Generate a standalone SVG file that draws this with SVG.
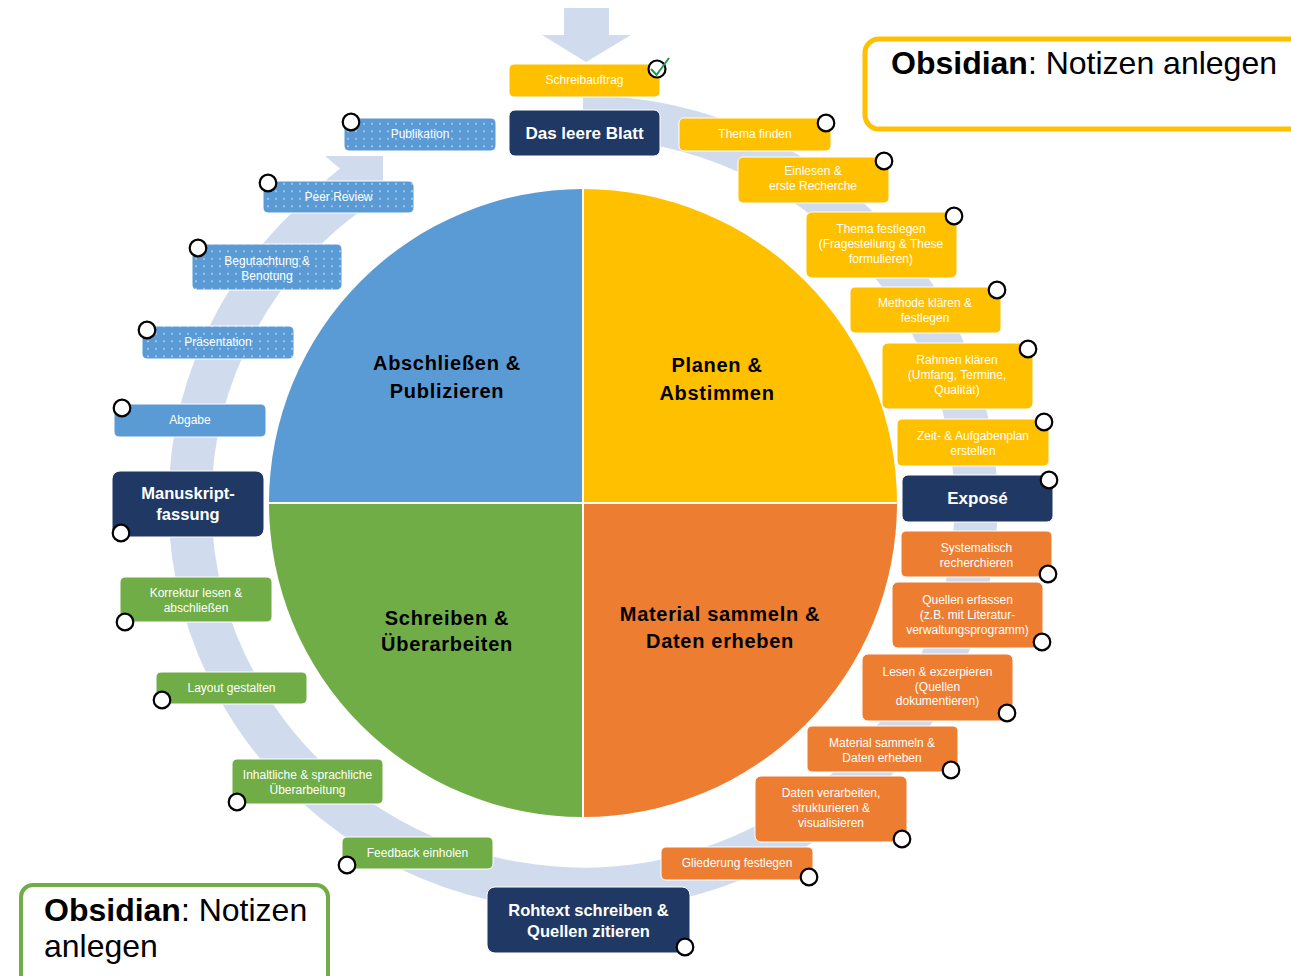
<svg xmlns="http://www.w3.org/2000/svg" width="1291" height="976" viewBox="0 0 1291 976">
<style>
  .t { font-family: "Liberation Sans", Arial, sans-serif; font-size: 12px; fill: #ffffff; text-anchor: middle; }
  .tb { font-family: "Liberation Sans", Arial, sans-serif; font-size: 17px; font-weight: bold; fill: #ffffff; text-anchor: middle; }
  .q { font-family: "Liberation Sans", Arial, sans-serif; font-size: 20px; font-weight: bold; fill: #000000; text-anchor: middle; letter-spacing: 0.7px; }
  .obs { font-family: "Liberation Sans", Arial, sans-serif; font-size: 32px; fill: #000000; }
  .y { fill: #ffc000; stroke: #ffffff; stroke-width: 1; }
  .n { fill: #203864; stroke: #ffffff; stroke-width: 1; }
  .b { fill: #5b9bd5; stroke: #ffffff; stroke-width: 1; }
  .bd { fill: url(#dots); stroke: #ffffff; stroke-width: 1; }
  .g { fill: #70ad47; stroke: #ffffff; stroke-width: 1; }
  .o { fill: #ed7d31; stroke: #ffffff; stroke-width: 1; }
  .c { fill: #ffffff; stroke: #000000; stroke-width: 2.2; }
  .band { fill: none; stroke: #d0dcee; stroke-width: 43; }
</style>
<defs>
  <pattern id="dots" width="8" height="7.5" patternUnits="userSpaceOnUse">
    <rect width="8" height="7.5" fill="#5b9bd5"/>
    <circle cx="4" cy="3.75" r="0.8" fill="#e8f0fa"/>
  </pattern>
</defs>
<rect width="1291" height="976" fill="#ffffff"/>

<g id="background-flow">
  <path class="band" d="M 583 117 A 393 386 0 1 1 349.2 192.7"/>
  <polygon points="325,156 383,156 383,181 325,181 340,168.5" fill="#d0dcee"/>
  <polygon points="564,8 609,8 609,35 631,35 586,62 542,35 564,35" fill="#d0dcee"/>
</g>

<g id="cycle">
  <path d="M583 503 L583 189 A314 314 0 0 0 269 503 Z" fill="#5b9bd5"/>
  <path d="M583 503 L897 503 A314 314 0 0 0 583 189 Z" fill="#ffc000"/>
  <path d="M583 503 L269 503 A314 314 0 0 0 583 817 Z" fill="#70ad47"/>
  <path d="M583 503 L583 817 A314 314 0 0 0 897 503 Z" fill="#ed7d31"/>
  <line x1="583" y1="189" x2="583" y2="817" stroke="#ffffff" stroke-width="2"/>
  <line x1="269" y1="503" x2="897" y2="503" stroke="#ffffff" stroke-width="2"/>
  <text class="q" x="447" y="370"><tspan x="447">Abschließen &amp;</tspan><tspan x="447" dy="28">Publizieren</tspan></text>
  <text class="q" x="717" y="372"><tspan x="717">Planen &amp;</tspan><tspan x="717" dy="28">Abstimmen</tspan></text>
  <text class="q" x="447" y="625"><tspan x="447">Schreiben &amp;</tspan><tspan x="447" dy="26">Überarbeiten</tspan></text>
  <text class="q" x="720" y="621"><tspan x="720">Material sammeln &amp;</tspan><tspan x="720" dy="27">Daten erheben</tspan></text>
</g>

<g id="connectors"></g>

<!-- top / yellow -->
<g id="schreibauftrag">
  <rect class="y" x="509" y="64" width="151" height="33" rx="5"/>
  <text class="t" x="584.5" y="84">Schreibauftrag</text>
  <circle class="c" cx="657" cy="69" r="8.5"/>
  <path d="M651 69 L656.5 75 L669 58" fill="none" stroke="#1f9a50" stroke-width="2"/>
</g>
<g id="das-leere-blatt">
  <rect class="n" x="509" y="110" width="151" height="46" rx="6"/>
  <text class="tb" x="584.5" y="139">Das leere Blatt</text>
</g>
<g id="thema-finden">
  <rect class="y" x="679" y="118" width="152" height="33" rx="5"/>
  <text class="t" x="755" y="138">Thema finden</text>
  <circle class="c" cx="826" cy="123" r="8.3"/>
</g>
<g id="einlesen">
  <rect class="y" x="738" y="157" width="151" height="46" rx="5"/>
  <text class="t" x="813" y="175"><tspan x="813">Einlesen &amp;</tspan><tspan x="813" dy="15">erste Recherche</tspan></text>
  <circle class="c" cx="884" cy="161" r="8.3"/>
</g>
<g id="thema-festlegen">
  <rect class="y" x="806" y="212" width="151" height="66" rx="6"/>
  <text class="t" x="881" y="233"><tspan x="881">Thema festlegen</tspan><tspan x="881" dy="15">(Fragestellung &amp; These</tspan><tspan x="881" dy="15">formulieren)</tspan></text>
  <circle class="c" cx="954" cy="216" r="8.3"/>
</g>
<g id="methode">
  <rect class="y" x="850" y="287" width="151" height="46" rx="5"/>
  <text class="t" x="925" y="307"><tspan x="925">Methode klären &amp;</tspan><tspan x="925" dy="15">festlegen</tspan></text>
  <circle class="c" cx="997" cy="290" r="8.3"/>
</g>
<g id="rahmen">
  <rect class="y" x="882" y="343" width="151" height="66" rx="6"/>
  <text class="t" x="957" y="364"><tspan x="957">Rahmen klären</tspan><tspan x="957" dy="15">(Umfang, Termine,</tspan><tspan x="957" dy="15">Qualität)</tspan></text>
  <circle class="c" cx="1028" cy="349" r="8.3"/>
</g>
<g id="zeitplan">
  <rect class="y" x="897" y="419" width="152" height="47" rx="5"/>
  <text class="t" x="973" y="440"><tspan x="973">Zeit- &amp; Aufgabenplan</tspan><tspan x="973" dy="15">erstellen</tspan></text>
  <circle class="c" cx="1044" cy="422" r="8.3"/>
</g>
<g id="expose">
  <rect class="n" x="902" y="475" width="151" height="47" rx="6"/>
  <text class="tb" x="977.5" y="504">Exposé</text>
  <circle class="c" cx="1049" cy="480" r="8.3"/>
</g>

<!-- orange -->
<g id="systematisch">
  <rect class="o" x="901" y="531" width="151" height="46" rx="5"/>
  <text class="t" x="976.5" y="552"><tspan x="976.5">Systematisch</tspan><tspan x="976.5" dy="15">recherchieren</tspan></text>
  <circle class="c" cx="1048" cy="574" r="8.3"/>
</g>
<g id="quellen">
  <rect class="o" x="892" y="582" width="151" height="66" rx="6"/>
  <text class="t" x="967.5" y="604"><tspan x="967.5">Quellen erfassen</tspan><tspan x="967.5" dy="15">(z.B. mit Literatur-</tspan><tspan x="967.5" dy="15">verwaltungsprogramm)</tspan></text>
  <circle class="c" cx="1042" cy="642" r="8.3"/>
</g>
<g id="lesen">
  <rect class="o" x="862" y="654" width="151" height="67" rx="6"/>
  <text class="t" x="937.5" y="676"><tspan x="937.5">Lesen &amp; exzerpieren</tspan><tspan x="937.5" dy="15">(Quellen</tspan><tspan x="937.5" dy="14">dokumentieren)</tspan></text>
  <circle class="c" cx="1007" cy="713" r="8.3"/>
</g>
<g id="material">
  <rect class="o" x="807" y="726" width="151" height="46" rx="5"/>
  <text class="t" x="882" y="747"><tspan x="882">Material sammeln &amp;</tspan><tspan x="882" dy="15">Daten erheben</tspan></text>
  <circle class="c" cx="951" cy="770" r="8.3"/>
</g>
<g id="daten-verarbeiten">
  <rect class="o" x="755" y="776" width="152" height="66" rx="6"/>
  <text class="t" x="831" y="797"><tspan x="831">Daten verarbeiten,</tspan><tspan x="831" dy="15">strukturieren &amp;</tspan><tspan x="831" dy="15">visualisieren</tspan></text>
  <circle class="c" cx="902" cy="839" r="8.3"/>
</g>
<g id="gliederung">
  <rect class="o" x="661" y="847" width="152" height="33" rx="5"/>
  <text class="t" x="737" y="867">Gliederung festlegen</text>
  <circle class="c" cx="809" cy="877" r="8.3"/>
</g>
<g id="rohtext">
  <rect class="n" x="487" y="887" width="203" height="66" rx="8"/>
  <text class="tb" x="588.5" y="916" style="font-size:16.5px"><tspan x="588.5">Rohtext schreiben &amp;</tspan><tspan x="588.5" dy="21">Quellen zitieren</tspan></text>
  <circle class="c" cx="685" cy="947" r="8.3"/>
</g>

<!-- green -->
<g id="feedback">
  <rect class="g" x="342" y="837" width="151" height="32" rx="5"/>
  <text class="t" x="417.5" y="857">Feedback einholen</text>
  <circle class="c" cx="347" cy="865" r="8.3"/>
</g>
<g id="inhaltliche">
  <rect class="g" x="232" y="759" width="151" height="45" rx="5"/>
  <text class="t" x="307.5" y="779"><tspan x="307.5">Inhaltliche &amp; sprachliche</tspan><tspan x="307.5" dy="15">Überarbeitung</tspan></text>
  <circle class="c" cx="237" cy="802" r="8.3"/>
</g>
<g id="layout">
  <rect class="g" x="156" y="672" width="151" height="32" rx="5"/>
  <text class="t" x="231.5" y="692">Layout gestalten</text>
  <circle class="c" cx="162" cy="700" r="8.3"/>
</g>
<g id="korrektur">
  <rect class="g" x="120" y="577" width="152" height="45" rx="5"/>
  <text class="t" x="196" y="597"><tspan x="196">Korrektur lesen &amp;</tspan><tspan x="196" dy="15">abschließen</tspan></text>
  <circle class="c" cx="125" cy="622" r="8.3"/>
</g>
<g id="manuskriptfassung">
  <rect class="n" x="112" y="471" width="152" height="66" rx="8"/>
  <text class="tb" x="188" y="499" style="font-size:16.5px"><tspan x="188">Manuskript-</tspan><tspan x="188" dy="21">fassung</tspan></text>
  <circle class="c" cx="121" cy="533" r="8.3"/>
</g>

<!-- blue -->
<g id="abgabe">
  <rect class="b" x="114" y="404" width="152" height="33" rx="5"/>
  <text class="t" x="190" y="424">Abgabe</text>
  <circle class="c" cx="122" cy="408" r="8.3"/>
</g>
<g id="praesentation">
  <rect class="bd" x="142" y="326" width="152" height="33" rx="5"/>
  <text class="t" x="218" y="346">Präsentation</text>
  <circle class="c" cx="147" cy="330" r="8.3"/>
</g>
<g id="begutachtung">
  <rect class="bd" x="192" y="244" width="150" height="46" rx="5"/>
  <text class="t" x="267" y="265"><tspan x="267">Begutachtung &amp;</tspan><tspan x="267" dy="15">Benotung</tspan></text>
  <circle class="c" cx="198" cy="248" r="8.3"/>
</g>
<g id="peer-review">
  <rect class="bd" x="263" y="181" width="151" height="32" rx="5"/>
  <text class="t" x="338.5" y="201">Peer Review</text>
  <circle class="c" cx="268" cy="183" r="8.3"/>
</g>
<g id="publikation">
  <rect class="bd" x="344" y="118" width="152" height="33" rx="5"/>
  <text class="t" x="420" y="138">Publikation</text>
  <circle class="c" cx="351" cy="122" r="8.3"/>
</g>

<!-- Obsidian notes -->
<g id="obsidian-top">
  <rect x="865" y="39" width="440" height="90" rx="14" fill="#ffffff" stroke="#ffc000" stroke-width="5"/>
  <text class="obs" x="891" y="74"><tspan font-weight="bold">Obsidian</tspan>: Notizen anlegen</text>
</g>
<g id="obsidian-bottom">
  <rect x="21" y="885" width="307" height="110" rx="12" fill="#ffffff" stroke="#70ad47" stroke-width="4"/>
  <text class="obs" x="44" y="921"><tspan x="44" font-weight="bold">Obsidian</tspan><tspan>: Notizen</tspan><tspan x="44" dy="36">anlegen</tspan></text>
</g>
</svg>
